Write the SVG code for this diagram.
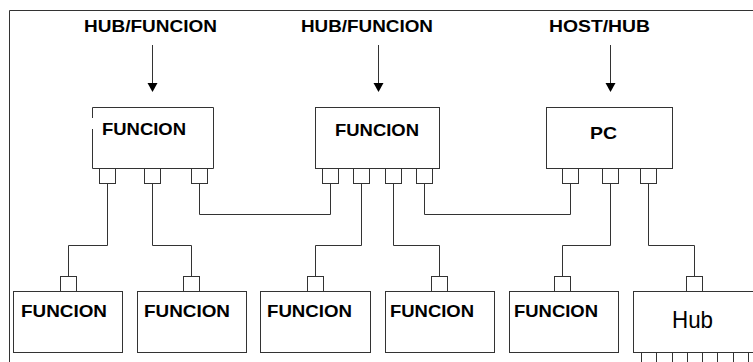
<svg xmlns="http://www.w3.org/2000/svg" width="753" height="362" viewBox="0 0 753 362">
<style>
.ln{fill:none;stroke:#333;stroke-width:1}
.bx{fill:#fff;stroke:#333;stroke-width:1}
.t{font-family:"Liberation Sans",Arial,sans-serif;font-weight:bold;font-size:17px;fill:#000}
.h{font-family:"Liberation Sans",Arial,sans-serif;font-size:24px;fill:#000}
</style>
<defs>
<marker id="ah" markerWidth="10" markerHeight="9" refX="5" refY="9" orient="auto" markerUnits="userSpaceOnUse" viewBox="0 0 10 9">
<path d="M0,0 L10,0 L5,9 Z" fill="#000"/>
</marker>
</defs>
<rect width="753" height="362" fill="#fff"/>
<path class="ln" d="M9.5,362 V10.5 H753"/>

<g id="labels">
<text class="t" x="84" y="31.5" textLength="133" lengthAdjust="spacingAndGlyphs">HUB/FUNCION</text>
<text class="t" x="301" y="31.5" textLength="132" lengthAdjust="spacingAndGlyphs">HUB/FUNCION</text>
<text class="t" x="549" y="31.5" textLength="101" lengthAdjust="spacingAndGlyphs">HOST/HUB</text>
</g>

<g id="connectors">
<line class="ln" x1="152.5" y1="45" x2="152.5" y2="83" stroke="#000"/>
<path d="M147.5,83 L157.5,83 L152.5,92 Z" fill="#000"/>
<line class="ln" x1="378.5" y1="45" x2="378.5" y2="83"/>
<path d="M373.5,83 L383.5,83 L378.5,92 Z" fill="#000"/>
<line class="ln" x1="610.5" y1="45" x2="610.5" y2="83"/>
<path d="M605.5,83 L615.5,83 L610.5,92 Z" fill="#000"/>

<path class="ln" d="M107.5,183.5 V245.5 H68.5 V276.5"/>
<path class="ln" d="M152.5,183.5 V245.5 H191.5 V276.5"/>
<path class="ln" d="M199.5,183.5 V214.5 H330.5 V183.5"/>
<path class="ln" d="M361.5,183.5 V245.5 H315.5 V276.5"/>
<path class="ln" d="M393.5,183.5 V245.5 H439.5 V276.5"/>
<path class="ln" d="M424.5,183.5 V214.5 H570.5 V183.5"/>
<path class="ln" d="M610.5,183.5 V245.5 H562.5 V276.5"/>
<path class="ln" d="M648.5,183.5 V245.5 H694.5 V276.5"/>
</g>

<g id="func1">
<path class="ln" d="M92.5,118 V107.5 H213.5 V168.5 H92.5 V129"/>
<rect class="bx" x="99.5" y="168.5" width="16" height="15"/>
<rect class="bx" x="144.5" y="168.5" width="16" height="15"/>
<rect class="bx" x="191.5" y="168.5" width="16" height="15"/>
<text class="t" x="102" y="135" textLength="84" lengthAdjust="spacingAndGlyphs">FUNCION</text>
</g>

<g id="func2">
<rect class="bx" x="315.5" y="107.5" width="124" height="61"/>
<rect class="bx" x="322.5" y="168.5" width="16" height="15"/>
<rect class="bx" x="353.5" y="168.5" width="16" height="15"/>
<rect class="bx" x="385.5" y="168.5" width="16" height="15"/>
<rect class="bx" x="416.5" y="168.5" width="16" height="15"/>
<text class="t" x="335" y="136" textLength="84" lengthAdjust="spacingAndGlyphs">FUNCION</text>
</g>

<g id="pc">
<rect class="bx" x="546.5" y="107.5" width="126" height="61"/>
<rect class="bx" x="562.5" y="168.5" width="16" height="15"/>
<rect class="bx" x="602.5" y="168.5" width="16" height="15"/>
<rect class="bx" x="640.5" y="168.5" width="16" height="15"/>
<text class="t" x="590" y="139" textLength="27" lengthAdjust="spacingAndGlyphs">PC</text>
</g>

<g id="func3">
<rect class="bx" x="60.5" y="276.5" width="16" height="15"/>
<rect class="bx" x="13.5" y="291.5" width="109" height="61"/>
<text class="t" x="21" y="317" textLength="86" lengthAdjust="spacingAndGlyphs">FUNCION</text>
</g>

<g id="func4">
<rect class="bx" x="183.5" y="276.5" width="16" height="15"/>
<rect class="bx" x="137.5" y="291.5" width="109" height="61"/>
<text class="t" x="144" y="317" textLength="86" lengthAdjust="spacingAndGlyphs">FUNCION</text>
</g>

<g id="func5">
<rect class="bx" x="307.5" y="276.5" width="16" height="15"/>
<rect class="bx" x="260.5" y="291.5" width="110" height="61"/>
<text class="t" x="267" y="317" textLength="85" lengthAdjust="spacingAndGlyphs">FUNCION</text>
</g>

<g id="func6">
<rect class="bx" x="431.5" y="276.5" width="16" height="15"/>
<rect class="bx" x="385.5" y="291.5" width="109" height="61"/>
<text class="t" x="390" y="317" textLength="84" lengthAdjust="spacingAndGlyphs">FUNCION</text>
</g>

<g id="func7">
<rect class="bx" x="554.5" y="276.5" width="16" height="15"/>
<rect class="bx" x="509.5" y="291.5" width="109" height="61"/>
<text class="t" x="514" y="317" textLength="84" lengthAdjust="spacingAndGlyphs">FUNCION</text>
</g>

<g id="hub">
<rect class="bx" x="686.5" y="276.5" width="16" height="15"/>
<rect class="bx" x="633.5" y="291.5" width="130" height="61"/>
<text class="h" x="672" y="328" textLength="41" lengthAdjust="spacingAndGlyphs">Hub</text>
<path class="ln" d="M641.5,352 V362 M656.5,352 V362 M672.5,352 V362 M687.5,352 V362 M702.5,352 V362 M717.5,352 V362 M733.5,352 V362 M748.5,352 V362"/>
</g>
</svg>
